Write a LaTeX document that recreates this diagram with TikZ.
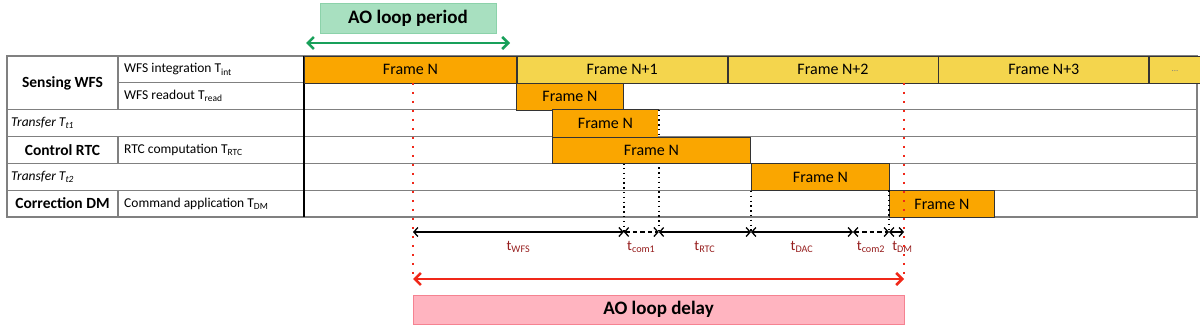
\documentclass[tikz,border=0pt]{standalone}
\usepackage{fontspec}
\setmainfont{Carlito}
\usetikzlibrary{positioning}
\usetikzlibrary{arrows.meta}

\definecolor{frameorange}{RGB}{250,166,0}
\definecolor{frameyellow}{RGB}{244,213,77}
\definecolor{periodfill}{RGB}{168,224,192}
\definecolor{periodline}{RGB}{140,210,170}
\definecolor{loopgreen}{RGB}{24,160,90}
\definecolor{delayfill}{RGB}{255,180,192}
\definecolor{delayline}{RGB}{245,130,145}
\definecolor{loopred}{RGB}{240,40,25}
\definecolor{labelred}{RGB}{150,30,30}
\definecolor{rulegray}{RGB}{128,128,128}

\begin{document}
\begin{tikzpicture}[x=1pt,y=-1pt,
    lbl/.style={font=\fontsize{13.5}{15}\selectfont, anchor=west, inner sep=0pt},
    head/.style={font=\fontsize{15.5}{17}\selectfont\bfseries, inner sep=0pt},
    framebox/.style={draw=black!80, line width=0.8pt, fill=frameorange, anchor=north west,
        inner sep=0pt, minimum height=26.8pt, font=\fontsize{16}{18}\selectfont},
    nextbox/.style={framebox, fill=frameyellow},
    rule/.style={draw=rulegray, line width=1.2pt},
    vtick/.style={black, line width=1.4pt, dash pattern=on 1.4pt off 3.4pt},
    reddots/.style={loopred, line width=2pt, dash pattern=on 2pt off 7pt},
    timespan/.style={{Straight Barb[length=4pt,width=9pt]}-{Straight Barb[length=4pt,width=9pt]}, line width=1.3pt},
    comspan/.style={timespan, dash pattern=on 4.5pt off 3pt},
    tlbl/.style={labelred, font=\fontsize{14.5}{16}\selectfont, inner sep=0pt},
    bigtitle/.style={font=\fontsize{19}{22}\selectfont\bfseries, inner sep=0pt}]
    \useasboundingbox (0,0) rectangle (1200,329);

    % table
    \draw[rule] (7,56) rectangle (1197,217);
    \foreach \y in {109.7,136.5,163.3,190.2}
        \draw[rule] (7,\y) -- (1197,\y);
    \draw[rule] (118,82.8) -- (1197,82.8);
    \draw[rule] (118,56) -- (118,109.7);
    \draw[rule] (118,136.5) -- (118,163.3);
    \draw[rule] (118,190.2) -- (118,217);
    \draw[line width=2.4pt] (304,56) -- (304,217);

    \node[head] (sensing) at (62.5,83) {Sensing WFS};
    \node[lbl] (tint) at (124,69.4) {WFS integration T\textsubscript{int}};
    \node[lbl] (tread) at (124,96.2) {WFS readout T\textsubscript{read}};
    \node[lbl] (tt1) at (11,123.1) {\textit{Transfer T\textsubscript{t1}}};
    \node[head] (control) at (62.5,149.9) {Control RTC};
    \node[lbl] (trtc) at (124,149.9) {RTC computation T\textsubscript{RTC}};
    \node[lbl] (tt2) at (11,176.7) {\textit{Transfer T\textsubscript{t2}}};
    \node[head] (correction) at (62.5,203.6) {Correction DM};
    \node[lbl] (tdm) at (124,203.6) {Command application T\textsubscript{DM}};

    % frames
    \node[framebox, minimum width=212pt] (fN) at (304,56) {Frame N};
    \node[nextbox, minimum width=210pt] (fN1) at (fN.north east) {Frame N+1};
    \node[nextbox, minimum width=210pt] (fN2) at (fN1.north east) {Frame N+2};
    \node[nextbox, minimum width=210pt] (fN3) at (fN2.north east) {Frame N+3};
    \node[nextbox, minimum width=51pt, text=gray, font=\fontsize{9}{10}\selectfont] (fmore) at (fN3.north east) {\raisebox{-3pt}{...}};

    \node[framebox, minimum width=107pt] (fr2) at (516,82.8) {Frame N};
    \coordinate (m0) at (413,232);
    \coordinate (m1) at (fr2.south east |- m0);
    \draw[vtick] (fr2.south east) -- (m1);
    \node[framebox, draw=none, minimum width=106pt] (fr3) at (552,109.7) {Frame N};
    \draw[black!80, line width=0.8pt] (fr3.north east) -- (fr3.north west) -- (fr3.south west) -- (fr3.south east);
    \coordinate (m2) at (fr3.north east |- m0);
    \draw[vtick] (fr3.north east) -- (m2);
    \node[framebox, minimum width=198pt] (fr4) at (552,136.5) {Frame N};
    \node[framebox, minimum width=138pt] (fr5) at (751,163.3) {Frame N};
    \node[framebox, minimum width=105pt] (fr6) at (889,190.2) {Frame N};
    \coordinate (m3) at (fr5.north west |- m0);
    \coordinate (m4) at (853,232);
    \coordinate (m5) at (fr6.north west |- m0);
    \coordinate (m6) at (904,232);
    \draw[vtick] (fr5.south west) -- (m3);
    \draw[vtick] (fr6.north west) -- (m5);

    % delays
    \draw[timespan] (m0) -- (m1) node[tlbl, midway, below=9pt] (twfs) {t\textsubscript{WFS}};
    \draw[comspan] (m1) -- (m2) node[tlbl, midway, below=9pt] (tcom1) {t\textsubscript{com1}};
    \draw[timespan] (m2) -- (m3) node[tlbl, midway, below=9pt] (trtcl) {t\textsubscript{RTC}};
    \draw[timespan] (m3) -- (m4) node[tlbl, midway, below=9pt] (tdac) {t\textsubscript{DAC}};
    \draw[comspan] (m4) -- (m5) node[tlbl, midway, below=9pt] (tcom2) {t\textsubscript{com2}};
    \draw[timespan] (m5) -- (m6) node[tlbl, midway, below=9pt, xshift=6pt] (tdml) {t\textsubscript{DM}};

    % loop period and loop delay
    \node[draw=periodline, fill=periodfill, minimum width=176pt, minimum height=30pt, bigtitle] (period) at (408,18) {AO loop period};
    \coordinate (p0) at (306,43);
    \coordinate (p1) at (510,43);
    \draw[loopgreen, line width=2.5pt, {Straight Barb[length=6pt,width=12pt]}-{Straight Barb[length=6pt,width=12pt]}] (p0) -- (p1);

    \coordinate (d0) at (413,82.8);
    \coordinate (d1) at (904,82.8);
    \coordinate (a0) at (413,279);
    \coordinate (a1) at (904,279);
    \draw[reddots] (d0) -- (a0);
    \draw[reddots] (d1) -- (a1);
    \draw[loopred, line width=2.6pt, {Straight Barb[length=6pt,width=12pt]}-{Straight Barb[length=6pt,width=12pt]}] (a0) -- (a1);
    \node[draw=delayline, fill=delayfill, minimum width=491pt, minimum height=29pt, bigtitle] (delay) at (658.5,309.5) {AO loop delay};
\end{tikzpicture}
\end{document}
